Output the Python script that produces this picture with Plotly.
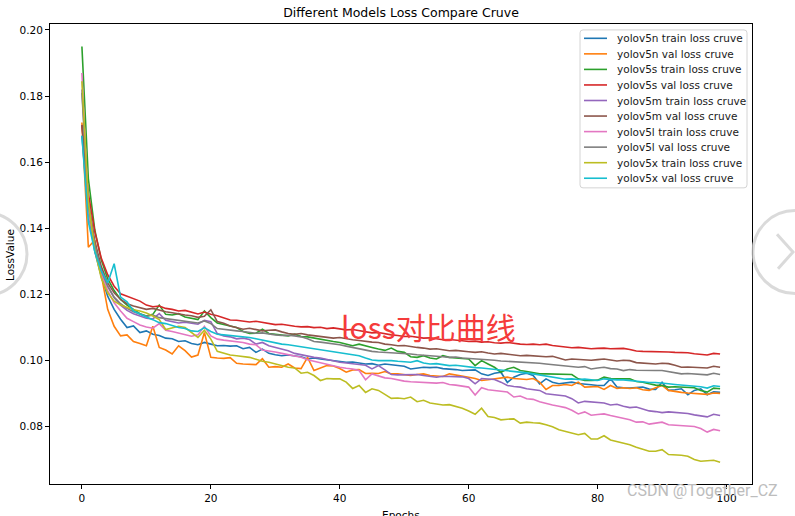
import plotly.graph_objects as go

# ---------------- data ----------------
epochs = list(range(100))

yolov5n_train = [
    0.1680, 0.1450, 0.1330, 0.1255, 0.1195, 0.1155, 0.1125, 0.1100, 0.1105, 0.1085,
    0.1090, 0.1080, 0.1076, 0.1068, 0.1066, 0.1058, 0.1060, 0.1052, 0.1048, 0.1055,
    0.1050, 0.1045, 0.1046, 0.1044, 0.1045, 0.1036, 0.1040, 0.1025, 0.1035, 0.1022,
    0.1018, 0.1015, 0.1017, 0.1015, 0.1012, 0.1005, 0.1008, 0.1005, 0.1003, 0.1000,
    0.0998, 0.0995, 0.0996, 0.0992, 0.0990, 0.0991, 0.0986, 0.0990, 0.0988, 0.0985,
    0.0983, 0.0975, 0.0978, 0.0980, 0.0979, 0.0980, 0.0976, 0.0975, 0.0973, 0.0970,
    0.0970, 0.0972, 0.0960, 0.0955, 0.0962, 0.0965, 0.0934, 0.0950, 0.0958, 0.0962,
    0.0955, 0.0930, 0.0945, 0.0935, 0.0930, 0.0933, 0.0935, 0.0931, 0.0930, 0.0927,
    0.0925, 0.0925, 0.0945, 0.0920, 0.0918, 0.0917, 0.0919, 0.0920, 0.0914, 0.0913,
    0.0935, 0.0910, 0.0912, 0.0915, 0.0897, 0.0910, 0.0915, 0.0897, 0.0906, 0.0904,
]
yolov5n_val = [
    0.1720, 0.1343, 0.1365, 0.1255, 0.1155, 0.1104, 0.1075, 0.1078, 0.1058, 0.1052,
    0.1045, 0.1104, 0.1040, 0.1032, 0.1020, 0.1045, 0.1030, 0.1011, 0.1017, 0.1085,
    0.1010, 0.1008, 0.1007, 0.1009, 0.0992, 0.0990, 0.0990, 0.0988, 0.1006, 0.0980,
    0.0982, 0.0980, 0.0990, 0.0978, 0.0976, 0.1010, 0.0970, 0.0978, 0.0985, 0.0984,
    0.0976, 0.0965, 0.0972, 0.0973, 0.0961, 0.0962, 0.0961, 0.0967, 0.0960, 0.0960,
    0.0958, 0.0955, 0.0958, 0.0960, 0.0955, 0.0954, 0.0952, 0.0960, 0.0957, 0.0955,
    0.0950, 0.0946, 0.0940, 0.0942, 0.0945, 0.0948, 0.0950, 0.0946, 0.0945, 0.0943,
    0.0946, 0.0935, 0.0913, 0.0925, 0.0925, 0.0928, 0.0925, 0.0935, 0.0920, 0.0922,
    0.0922, 0.0913, 0.0925, 0.0916, 0.0918, 0.0916, 0.0918, 0.0912, 0.0910, 0.0918,
    0.0925, 0.0910, 0.0906, 0.0904, 0.0902, 0.0900, 0.0900, 0.0898, 0.0902, 0.0901,
]
yolov5s_train = [
    0.1950, 0.1550, 0.1395, 0.1305, 0.1248, 0.1212, 0.1185, 0.1168, 0.1155, 0.1142,
    0.1135, 0.1140, 0.1168, 0.1140, 0.1138, 0.1142, 0.1132, 0.1128, 0.1124, 0.1150,
    0.1130, 0.1114, 0.1110, 0.1104, 0.1100, 0.1088, 0.1082, 0.1083, 0.1095, 0.1082,
    0.1080, 0.1078, 0.1075, 0.1080, 0.1073, 0.1072, 0.1068, 0.1065, 0.1062, 0.1058,
    0.1055, 0.1050, 0.1045, 0.1050, 0.1044, 0.1040, 0.1035, 0.1031, 0.1038, 0.1028,
    0.1025, 0.1012, 0.1010, 0.1015, 0.1008, 0.1005, 0.1015, 0.1010, 0.1008, 0.1006,
    0.1005, 0.0985, 0.1000, 0.0990, 0.0980, 0.0965, 0.0975, 0.0980, 0.0970, 0.0967,
    0.0963, 0.0960, 0.0960, 0.0960, 0.0959, 0.0958, 0.0958, 0.0945, 0.0940, 0.0940,
    0.0941, 0.0950, 0.0946, 0.0945, 0.0944, 0.0945, 0.0937, 0.0935, 0.0930, 0.0926,
    0.0925, 0.0920, 0.0921, 0.0920, 0.0919, 0.0918, 0.0910, 0.0905, 0.0917, 0.0915,
]
yolov5s_val = [
    0.1712, 0.1505, 0.1390, 0.1310, 0.1260, 0.1225, 0.1202, 0.1195, 0.1188, 0.1180,
    0.1168, 0.1163, 0.1165, 0.1158, 0.1155, 0.1150, 0.1152, 0.1146, 0.1141, 0.1147,
    0.1140, 0.1136, 0.1130, 0.1123, 0.1122, 0.1120, 0.1117, 0.1119, 0.1115, 0.1112,
    0.1109, 0.1110, 0.1106, 0.1104, 0.1102, 0.1103, 0.1100, 0.1101, 0.1097, 0.1099,
    0.1096, 0.1093, 0.1094, 0.1090, 0.1087, 0.1084, 0.1085, 0.1081, 0.1078, 0.1076,
    0.1073, 0.1074, 0.1070, 0.1068, 0.1069, 0.1066, 0.1063, 0.1064, 0.1061, 0.1060,
    0.1058, 0.1059, 0.1056, 0.1057, 0.1054, 0.1053, 0.1055, 0.1052, 0.1050, 0.1049,
    0.1050, 0.1048, 0.1050, 0.1046, 0.1043, 0.1041, 0.1039, 0.1040, 0.1037, 0.1036,
    0.1037, 0.1038, 0.1036, 0.1036, 0.1037, 0.1034, 0.1029, 0.1028, 0.1028, 0.1027,
    0.1028, 0.1026, 0.1025, 0.1025, 0.1024, 0.1021, 0.1019, 0.1017, 0.1022, 0.1020,
]
yolov5m_train = [
    0.1820, 0.1480, 0.1352, 0.1275, 0.1225, 0.1190, 0.1168, 0.1152, 0.1142, 0.1134,
    0.1128, 0.1126, 0.1142, 0.1122, 0.1118, 0.1114, 0.1116, 0.1112, 0.1110, 0.1122,
    0.1118, 0.1082, 0.1075, 0.1072, 0.1066, 0.1068, 0.1064, 0.1050, 0.1055, 0.1045,
    0.1040, 0.1035, 0.1030, 0.1022, 0.1018, 0.1012, 0.1010, 0.1008, 0.1004, 0.0998,
    0.0995, 0.0993, 0.0990, 0.0989, 0.0986, 0.0975, 0.0985, 0.0972, 0.0958, 0.0957,
    0.0958, 0.0957, 0.0958, 0.0955, 0.0953, 0.0950, 0.0953, 0.0952, 0.0950, 0.0951,
    0.0946, 0.0930, 0.0946, 0.0944, 0.0943, 0.0935, 0.0925, 0.0922, 0.0920, 0.0915,
    0.0913, 0.0910, 0.0900, 0.0898, 0.0897, 0.0893, 0.0885, 0.0872, 0.0877, 0.0876,
    0.0875, 0.0872, 0.0866, 0.0868, 0.0862, 0.0858, 0.0860, 0.0855, 0.0848, 0.0846,
    0.0843, 0.0845, 0.0844, 0.0843, 0.0840, 0.0836, 0.0832, 0.0830, 0.0838, 0.0834,
]
yolov5m_val = [
    0.1713, 0.1480, 0.1360, 0.1285, 0.1235, 0.1205, 0.1185, 0.1172, 0.1165, 0.1160,
    0.1155, 0.1158, 0.1152, 0.1148, 0.1145, 0.1141, 0.1138, 0.1136, 0.1131, 0.1134,
    0.1154, 0.1118, 0.1113, 0.1105, 0.1100, 0.1095, 0.1098, 0.1093, 0.1090, 0.1092,
    0.1093, 0.1087, 0.1082, 0.1080, 0.1082, 0.1078, 0.1075, 0.1072, 0.1070, 0.1068,
    0.1070, 0.1066, 0.1063, 0.1061, 0.1058, 0.1056, 0.1055, 0.1050, 0.1048, 0.1045,
    0.1046, 0.1042, 0.1040, 0.1038, 0.1035, 0.1036, 0.1032, 0.1030, 0.1031, 0.1028,
    0.1027, 0.1025, 0.1027, 0.1023, 0.1020, 0.1022, 0.1020, 0.1017, 0.1015, 0.1016,
    0.1014, 0.1013, 0.1012, 0.1013, 0.1008, 0.1002, 0.1005, 0.1004, 0.1003, 0.1001,
    0.1003, 0.1005, 0.1002, 0.0999, 0.1001, 0.1000, 0.0994, 0.0992, 0.0991, 0.0990,
    0.0992, 0.0991, 0.0986, 0.0980, 0.0981, 0.0980, 0.0979, 0.0978, 0.0983, 0.0980,
]
yolov5l_train = [
    0.1870, 0.1452, 0.1345, 0.1265, 0.1212, 0.1175, 0.1150, 0.1128, 0.1118, 0.1108,
    0.1102, 0.1098, 0.1112, 0.1092, 0.1088, 0.1084, 0.1080, 0.1074, 0.1078, 0.1104,
    0.1075, 0.1065, 0.1062, 0.1060, 0.1057, 0.1055, 0.1050, 0.1048, 0.1032, 0.1030,
    0.1026, 0.1022, 0.1018, 0.1012, 0.1010, 0.1003, 0.0998, 0.0993, 0.0988, 0.0984,
    0.0980, 0.0977, 0.0975, 0.0970, 0.0942, 0.0960, 0.0955, 0.0948, 0.0946, 0.0941,
    0.0938, 0.0936, 0.0935, 0.0933, 0.0934, 0.0932, 0.0934, 0.0928, 0.0926, 0.0924,
    0.0920, 0.0896, 0.0918, 0.0912, 0.0910, 0.0908, 0.0905, 0.0890, 0.0893, 0.0885,
    0.0883, 0.0876, 0.0870, 0.0866, 0.0862, 0.0858, 0.0850, 0.0839, 0.0845, 0.0835,
    0.0837, 0.0839, 0.0834, 0.0830, 0.0826, 0.0821, 0.0814, 0.0815, 0.0808, 0.0810,
    0.0814, 0.0806, 0.0805, 0.0804, 0.0803, 0.0801, 0.0795, 0.0784, 0.0792, 0.0788,
]
yolov5l_val = [
    0.1810, 0.1470, 0.1350, 0.1272, 0.1225, 0.1192, 0.1172, 0.1158, 0.1148, 0.1140,
    0.1134, 0.1138, 0.1130, 0.1127, 0.1124, 0.1122, 0.1119, 0.1117, 0.1114, 0.1120,
    0.1112, 0.1097, 0.1094, 0.1092, 0.1090, 0.1088, 0.1085, 0.1083, 0.1084, 0.1080,
    0.1078, 0.1076, 0.1077, 0.1075, 0.1072, 0.1066, 0.1058, 0.1056, 0.1054, 0.1051,
    0.1048, 0.1044, 0.1040, 0.1036, 0.1031, 0.1028, 0.1026, 0.1025, 0.1023, 0.1024,
    0.1021, 0.1020, 0.1018, 0.1017, 0.1015, 0.1013, 0.1012, 0.1010, 0.1011, 0.1008,
    0.1007, 0.1005, 0.1004, 0.1002, 0.1001, 0.0999, 0.0998, 0.0997, 0.0995, 0.0996,
    0.0994, 0.0992, 0.0990, 0.0988, 0.0987, 0.0986, 0.0983, 0.0980, 0.0982, 0.0975,
    0.0978, 0.0980, 0.0976, 0.0975, 0.0970, 0.0973, 0.0971, 0.0970, 0.0969, 0.0970,
    0.0970, 0.0967, 0.0964, 0.0960, 0.0961, 0.0959, 0.0958, 0.0957, 0.0962, 0.0958,
]
yolov5x_train = [
    0.1845, 0.1480, 0.1335, 0.1250, 0.1205, 0.1180, 0.1168, 0.1160, 0.1154, 0.1150,
    0.1144, 0.1135, 0.1124, 0.1094, 0.1100, 0.1104, 0.1100, 0.1085, 0.1070, 0.1092,
    0.1065, 0.1028, 0.1022, 0.1017, 0.1015, 0.1012, 0.1010, 0.1004, 0.0998, 0.0995,
    0.0990, 0.0986, 0.0980, 0.0978, 0.0962, 0.0965, 0.0955, 0.0940, 0.0946, 0.0945,
    0.0945, 0.0935, 0.0916, 0.0925, 0.0904, 0.0915, 0.0910, 0.0898, 0.0886, 0.0887,
    0.0885, 0.0890, 0.0876, 0.0880, 0.0872, 0.0869, 0.0866, 0.0867, 0.0862, 0.0856,
    0.0848, 0.0838, 0.0856, 0.0831, 0.0828, 0.0821, 0.0823, 0.0824, 0.0811, 0.0814,
    0.0812, 0.0811, 0.0806, 0.0800, 0.0791, 0.0786, 0.0780, 0.0776, 0.0780, 0.0763,
    0.0763, 0.0773, 0.0760, 0.0755, 0.0750, 0.0746, 0.0738, 0.0733, 0.0726, 0.0726,
    0.0731, 0.0716, 0.0716, 0.0714, 0.0711, 0.0701, 0.0696, 0.0698, 0.0699, 0.0693,
]
yolov5x_val = [
    0.1680, 0.1420, 0.1330, 0.1272, 0.1235, 0.1293, 0.1192, 0.1178, 0.1150, 0.1140,
    0.1132, 0.1124, 0.1115, 0.1112, 0.1106, 0.1100, 0.1097, 0.1090, 0.1088, 0.1100,
    0.1088, 0.1080, 0.1078, 0.1076, 0.1075, 0.1072, 0.1070, 0.1066, 0.1062, 0.1058,
    0.1052, 0.1050, 0.1048, 0.1045, 0.1043, 0.1040, 0.1036, 0.1034, 0.1030, 0.1027,
    0.1025, 0.1022, 0.1018, 0.1015, 0.1008, 0.1002, 0.1000, 0.1001, 0.1000, 0.0998,
    0.0996, 0.0995, 0.1000, 0.0993, 0.0990, 0.0991, 0.0988, 0.0985, 0.0986, 0.0983,
    0.0980, 0.0979, 0.0978, 0.0976, 0.0975, 0.0972, 0.0970, 0.0969, 0.0966, 0.0963,
    0.0960, 0.0957, 0.0953, 0.0949, 0.0946, 0.0944, 0.0945, 0.0943, 0.0944, 0.0941,
    0.0940, 0.0945, 0.0943, 0.0942, 0.0942, 0.0940, 0.0937, 0.0935, 0.0934, 0.0934,
    0.0931, 0.0930, 0.0928, 0.0926, 0.0925, 0.0924, 0.0921, 0.0917, 0.0924, 0.0922,
]

series_names = [
    "yolov5n train loss cruve", "yolov5n val loss cruve",
    "yolov5s train loss cruve", "yolov5s val loss cruve",
    "yolov5m train loss cruve", "yolov5m val loss cruve",
    "yolov5l train loss cruve", "yolov5l val loss cruve",
    "yolov5x train loss cruve", "yolov5x val loss cruve",
]
series_values = [
    yolov5n_train, yolov5n_val, yolov5s_train, yolov5s_val,
    yolov5m_train, yolov5m_val, yolov5l_train, yolov5l_val,
    yolov5x_train, yolov5x_val,
]
x_ticks = [0, 20, 40, 60, 80, 100]
y_ticks = [0.08, 0.10, 0.12, 0.14, 0.16, 0.18, 0.20]

# ---------------- style ----------------
colors = ["#1f77b4", "#ff7f0e", "#2ca02c", "#d62728", "#9467bd",
          "#8c564b", "#e377c2", "#7f7f7f", "#bcbd22", "#17becf"]
W, H = 795, 516
L, R, T, B = 50, 752, 24, 490
FONT = "DejaVu Sans"
LW = 1.6


def px(xp):
    return (xp - L) / (R - L)


def py(yp):
    return (B - yp) / (B - T)


fig = go.Figure()
for name, vals, col in zip(series_names, series_values, colors):
    fig.add_trace(go.Scatter(x=epochs, y=vals, mode="lines", name=name,
                             line=dict(color=col, width=LW), showlegend=False))

axis_common = dict(showgrid=False, zeroline=False, showline=True, linecolor="black",
                   linewidth=1, mirror=True, ticks="outside", ticklen=4,
                   tickcolor="black", tickwidth=1,
                   tickfont=dict(family=FONT, size=10.5, color="black"))

fig.update_layout(
    width=W, height=H,
    margin=dict(l=L, r=W - R, t=T, b=H - B),
    paper_bgcolor="white", plot_bgcolor="white",
    font=dict(family=FONT, color="black"),
    title=dict(text="Different Models Loss Compare Cruve", x=0.5, xref="paper",
               xanchor="center", y=1 - 13 / H, yref="container", yanchor="middle",
               font=dict(family=FONT, size=12.5, color="black")),
    xaxis=dict(range=[-4.95, 103.95], tickvals=x_ticks, **axis_common),
    yaxis=dict(range=[0.0627, 0.2018], tickvals=y_ticks, tickformat=".2f", **axis_common),
    showlegend=False,
)

annotations = [
    dict(text="LossValue", x=px(10), y=py(258), xref="paper", yref="paper",
         xanchor="center", yanchor="middle",
         textangle=-90, showarrow=False, font=dict(family=FONT, size=10.5, color="black")),
    dict(text="Epochs", x=px(401), y=0, xref="paper", yref="paper", yanchor="top",
         xanchor="center", yshift=-23, showarrow=False,
         font=dict(family=FONT, size=10.5, color="black")),
    dict(text="loss对比曲线", x=px(428), y=py(330), xref="paper", yref="paper",
         xanchor="center", yanchor="middle",
         showarrow=False, font=dict(family="Noto Sans CJK SC", size=30, color="#f53b3b")),
    dict(text="CSDN @Together_CZ", x=px(702), y=py(497), xref="paper", yref="paper",
         xanchor="center", yanchor="middle",
         showarrow=False, font=dict(family="Liberation Sans Narrow, Roboto", size=16,
                                    color="#bdbdbd")),
]

# ---------- hand-drawn legend (matplotlib-like spacing) ----------
LEG_X0, LEG_X1, LEG_Y0, LEG_Y1 = 580, 747, 30, 190
ROW0, ROW_STEP = 38.5, 15.75
r = 3
legend_box = (
    f"M {px(LEG_X0 + r)} {py(LEG_Y0)} L {px(LEG_X1 - r)} {py(LEG_Y0)} "
    f"Q {px(LEG_X1)} {py(LEG_Y0)} {px(LEG_X1)} {py(LEG_Y0 + r)} "
    f"L {px(LEG_X1)} {py(LEG_Y1 - r)} Q {px(LEG_X1)} {py(LEG_Y1)} {px(LEG_X1 - r)} {py(LEG_Y1)} "
    f"L {px(LEG_X0 + r)} {py(LEG_Y1)} Q {px(LEG_X0)} {py(LEG_Y1)} {px(LEG_X0)} {py(LEG_Y1 - r)} "
    f"L {px(LEG_X0)} {py(LEG_Y0 + r)} Q {px(LEG_X0)} {py(LEG_Y0)} {px(LEG_X0 + r)} {py(LEG_Y0)} Z"
)
shapes = [dict(type="path", xref="paper", yref="paper", path=legend_box,
               fillcolor="rgba(255,255,255,0.85)", line=dict(color="#d4d4d4", width=1))]
for i, (name, col) in enumerate(zip(series_names, colors)):
    yy = ROW0 + i * ROW_STEP
    shapes.append(dict(type="line", xref="paper", yref="paper",
                       x0=px(584), x1=px(607), y0=py(yy), y1=py(yy),
                       line=dict(color=col, width=LW)))
    annotations.append(dict(text=name, x=px(615), y=py(yy), xref="paper", yref="paper",
                            xanchor="left", yanchor="middle", showarrow=False,
                            font=dict(family=FONT, size=10.5, color="#1a1a1a")))

# ---------- image-viewer overlay rings ----------
ring = dict(color="rgba(205,205,205,0.75)", width=3)
shapes += [
    dict(type="circle", xref="paper", yref="paper",
         x0=px(-15 - 42), x1=px(-15 + 42), y0=py(257 + 42), y1=py(257 - 42), line=ring),
    dict(type="circle", xref="paper", yref="paper",
         x0=px(795 - 42), x1=px(795 + 42), y0=py(255 + 42), y1=py(255 - 42), line=ring),
    dict(type="path", xref="paper", yref="paper",
         path=f"M {px(777)} {py(237)} L {px(793)} {py(255)} L {px(778)} {py(272)}",
         line=ring),
]
fig.update_layout(annotations=annotations, shapes=shapes)

fig.write_html("out.html")
